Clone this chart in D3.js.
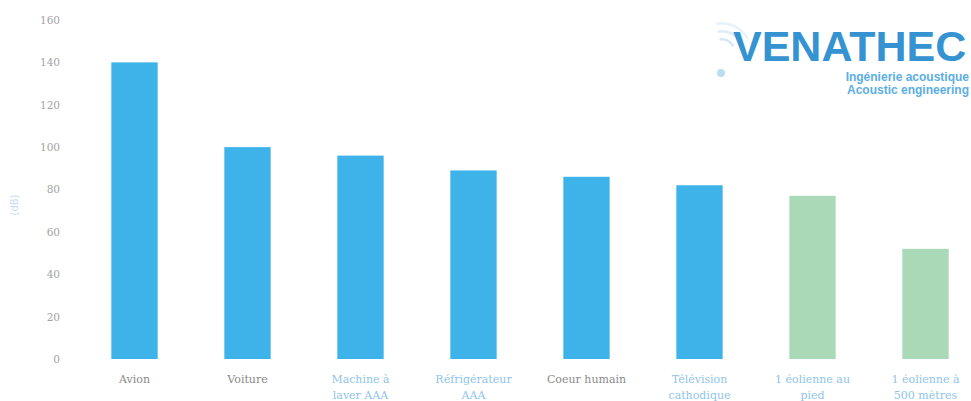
<!DOCTYPE html>
<html>
<head>
<meta charset="utf-8">
<script src="https://cdn.jsdelivr.net/npm/d3@7"></script>
<style>
  body { margin: 0; background: #fff; }
  svg { display: block; }
</style>
</head>
<body>
<svg width="971" height="401"></svg>
<script>
const categories = [
  ["Avion"],
  ["Voiture"],
  ["Machine à", "laver AAA"],
  ["Réfrigérateur", "AAA"],
  ["Coeur humain"],
  ["Télévision", "cathodique"],
  ["1 éolienne au", "pied"],
  ["1 éolienne à", "500 mètres"]
];
const values = [140, 100, 96, 89, 86, 82, 77, 52];
const barKinds = ["noise", "noise", "noise", "noise", "noise", "noise", "wind", "wind"];
const labelTints = ["grey", "grey", "blue", "blue", "grey", "blue", "blue", "blue"];
const yTicks = [0, 20, 40, 60, 80, 100, 120, 140, 160];

const svg = d3.select("svg");

const x = d3.scaleBand()
            .domain(d3.range(categories.length))
            .range([78, 982])
            .paddingInner(0.59)
            .paddingOuter(0.295);

const y = d3.scaleLinear()
            .domain([0, 160])
            .range([359, 20]);

const barColor = { noise: "#3db3ea", wind: "#a9d9b6" };
const textColor = { grey: "#8a8a8a", blue: "#8fc4ea" };

// y axis, only the tick labels are visible
const yAxis = d3.axisLeft(y).tickValues(yTicks).tickSize(0).tickPadding(0);
svg.append("g")
   .attr("transform", "translate(60,0)")
   .call(yAxis)
   .call(g => g.select(".domain").remove())
   .selectAll("text")
   .attr("font-family", "DejaVu Serif")
   .attr("font-size", 10.5)
   .attr("fill", "#a3a3a3");

svg.append("text")
   .attr("transform", "translate(18,205) rotate(-90)")
   .attr("text-anchor", "middle")
   .attr("font-family", "DejaVu Sans")
   .attr("font-size", 10)
   .attr("fill", "#c6def0")
   .text("(dB)");

// bars
svg.selectAll(".bar")
   .data(values)
   .enter()
   .append("rect")
   .attr("class", "bar")
   .attr("x", (d, i) => x(i))
   .attr("y", d => y(d))
   .attr("width", x.bandwidth())
   .attr("height", d => y(0) - y(d))
   .attr("fill", (d, i) => barColor[barKinds[i]]);

// category labels
const xAxis = d3.axisBottom(x).tickSize(0).tickFormat("");
const gx = svg.append("g")
              .attr("transform", `translate(0,${y(0)})`)
              .call(xAxis);
gx.select(".domain").remove();

gx.selectAll(".tick")
  .append("text")
  .attr("text-anchor", "middle")
  .attr("font-family", "DejaVu Serif")
  .attr("font-size", 11)
  .attr("fill", i => textColor[labelTints[i]])
  .selectAll("tspan")
  .data(i => categories[i])
  .enter()
  .append("tspan")
  .attr("x", 0)
  .attr("y", (d, j) => 24 + j * 16)
  .text(d => d);

// logo
const logo = svg.append("g").attr("id", "logo");

const arc = d3.arc();
[14, 22, 30].forEach((r, k) => {
  logo.append("path")
      .attr("transform", "translate(722,52)")
      .attr("d", arc({ innerRadius: r - 2.5, outerRadius: r, startAngle: -0.2, endAngle: 1.1 }))
      .attr("fill", "#cfe6f6")
      .attr("opacity", 0.9 - k * 0.2);
});
logo.append("circle")
    .attr("cx", 721)
    .attr("cy", 73)
    .attr("r", 4)
    .attr("fill", "#bcdcf2");

logo.append("text")
    .attr("x", 733)
    .attr("y", 61)
    .attr("font-family", "Liberation Sans")
    .attr("font-weight", "bold")
    .attr("font-size", 43)
    .attr("fill", "#3593d2")
    .text("VENATHEC");

logo.append("text")
    .attr("x", 969)
    .attr("y", 81)
    .attr("text-anchor", "end")
    .attr("font-family", "Liberation Sans")
    .attr("font-weight", "bold")
    .attr("font-size", 12)
    .attr("fill", "#5caee4")
    .text("Ingénierie acoustique");

logo.append("text")
    .attr("x", 969)
    .attr("y", 94)
    .attr("text-anchor", "end")
    .attr("font-family", "Liberation Sans")
    .attr("font-weight", "bold")
    .attr("font-size", 12)
    .attr("fill", "#5caee4")
    .text("Acoustic engineering");
</script>
</body>
</html>
